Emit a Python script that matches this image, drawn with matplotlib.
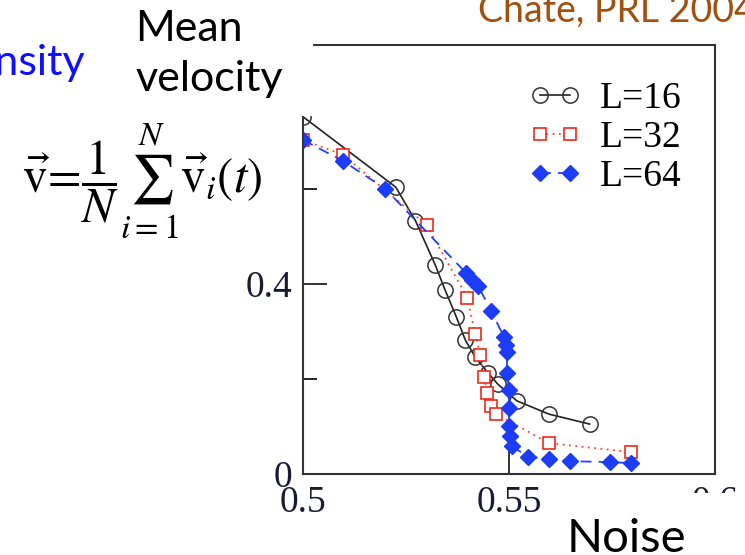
import matplotlib
matplotlib.use("Agg")
import matplotlib.pyplot as plt
from matplotlib.patches import Rectangle

# ---- data ----
noise_16 = [0.5000, 0.5225, 0.5273, 0.5321, 0.5345, 0.5372, 0.5394, 0.5418, 0.5449, 0.5473, 0.5519, 0.5597, 0.5696]
vel_16   = [0.752, 0.604, 0.533, 0.440, 0.387, 0.331, 0.282, 0.246, 0.213, 0.189, 0.154, 0.126, 0.105]

noise_32 = [0.5000, 0.5097, 0.5300, 0.5399, 0.5418, 0.5430, 0.5440, 0.5447, 0.5457, 0.5469, 0.5597, 0.5797]
vel_32   = [0.703, 0.672, 0.524, 0.371, 0.295, 0.251, 0.204, 0.171, 0.143, 0.126, 0.065, 0.046]

noise_64 = [0.5000, 0.5097, 0.5200, 0.5396, 0.5411, 0.5425, 0.5457, 0.5488, 0.5493, 0.5495, 0.5495,
            0.5500, 0.5500, 0.5500, 0.5502, 0.5507, 0.5546, 0.5597, 0.5647, 0.5746, 0.5797]
vel_64   = [0.703, 0.659, 0.600, 0.423, 0.408, 0.396, 0.343, 0.288, 0.272, 0.257, 0.213,
            0.177, 0.139, 0.101, 0.080, 0.059, 0.036, 0.032, 0.027, 0.025, 0.023]

labels = ["L=16", "L=32", "L=64"]
x_ticks = [0.5, 0.55, 0.6]
x_ticklabels = ["0.5", "0.55", "0.6"]
y_ticks = [0, 0.4]
y_ticklabels = ["0", "0.4"]
y_minor = [0.2, 0.6]

W, H = 745, 555
fig = plt.figure(figsize=(W / 100, H / 100), dpi=100)

def fx(p):
    return p / W

def fy(p):
    return 1 - p / H

serif = "Liberation Serif"
ax = fig.add_axes([fx(303), fy(474), fx(715) - fx(303), fy(45) - fy(474)])

ax.plot(noise_16, vel_16, color="#222222", lw=1.2, ls="-", marker="o", ms=11,
        mfc="none", mec="#333333", mew=1.1, label=labels[0])
ax.plot(noise_32, vel_32, color="#ff4030", lw=1.3, ls=(0, (1, 2.5)), marker="s", ms=8,
        mfc="white", mec="#ee2a1a", mew=1.2, label=labels[1])
ax.plot(noise_64, vel_64, color="#2040ff", lw=1.3, ls=(0, (6, 4)), marker="D", ms=8,
        mfc="#1c3cf5", mec="#1c3cf5", mew=1.0, label=labels[2])

ax.set_xlim(0.5, 0.6)
ax.set_ylim(0, 0.903)
ax.set_xticks(x_ticks)
ax.set_xticklabels(x_ticklabels)
ax.set_yticks(y_ticks)
ax.set_yticklabels(y_ticklabels)
ax.set_yticks(y_minor, minor=True)
ax.tick_params(axis="both", which="major", direction="in", length=17, width=1.2,
               labelsize=27, pad=8, colors="#111111")
ax.tick_params(axis="y", which="minor", direction="in", length=10, width=1.2)
ax.tick_params(axis="x", which="minor", length=0)
for lab in ax.get_xticklabels() + ax.get_yticklabels():
    lab.set_fontfamily(serif)
    lab.set_color("#1a1a33")
for s in ax.spines.values():
    s.set_linewidth(1.5)
    s.set_color("#333333")

leg = ax.legend(loc="upper right", frameon=False, numpoints=2, handlelength=1.4,
                prop={"family": serif, "size": 27}, labelspacing=0.12,
                borderaxespad=0.0, handletextpad=0.5, bbox_to_anchor=(0.955, 0.95))

# white boxes from the slide overlapping the chart
fig.add_artist(Rectangle((fx(125), fy(116)), fx(313) - fx(125), fy(0) - fy(116),
                         transform=fig.transFigure, facecolor="white", edgecolor="none", zorder=5))
fig.add_artist(Rectangle((fx(560), fy(555)), fx(745) - fx(560), fy(493) - fy(555),
                         transform=fig.transFigure, facecolor="white", edgecolor="none", zorder=5))

sans = "Lato"
fig.text(fx(85), fy(75), "Density", color="#1010ff", fontsize=31, family=sans,
         ha="right", va="baseline", zorder=6)
fig.text(fx(135), fy(41), "Mean", color="black", fontsize=31, family=sans,
         ha="left", va="baseline", zorder=6)
fig.text(fx(135), fy(91), "velocity", color="black", fontsize=31, family=sans,
         ha="left", va="baseline", zorder=6)
fig.text(fx(478), fy(22), "Chate, PRL 2004", color="#a0500f", fontsize=27, family=sans,
         ha="left", va="baseline", zorder=6)
fig.text(fx(567), fy(552), "Noise", color="black", fontsize=34, family=sans,
         ha="left", va="baseline", zorder=6)

plt.rcParams["mathtext.fontset"] = "stix"
fig.text(fx(22), fy(193), r"$\vec{\mathrm{v}}\!=\!\dfrac{1}{N}\sum_{i=1}^{N}\vec{\mathrm{v}}_i(t)$",
         fontsize=35, ha="left", va="baseline", color="black", zorder=6)

fig.savefig("out.png", dpi=100)
